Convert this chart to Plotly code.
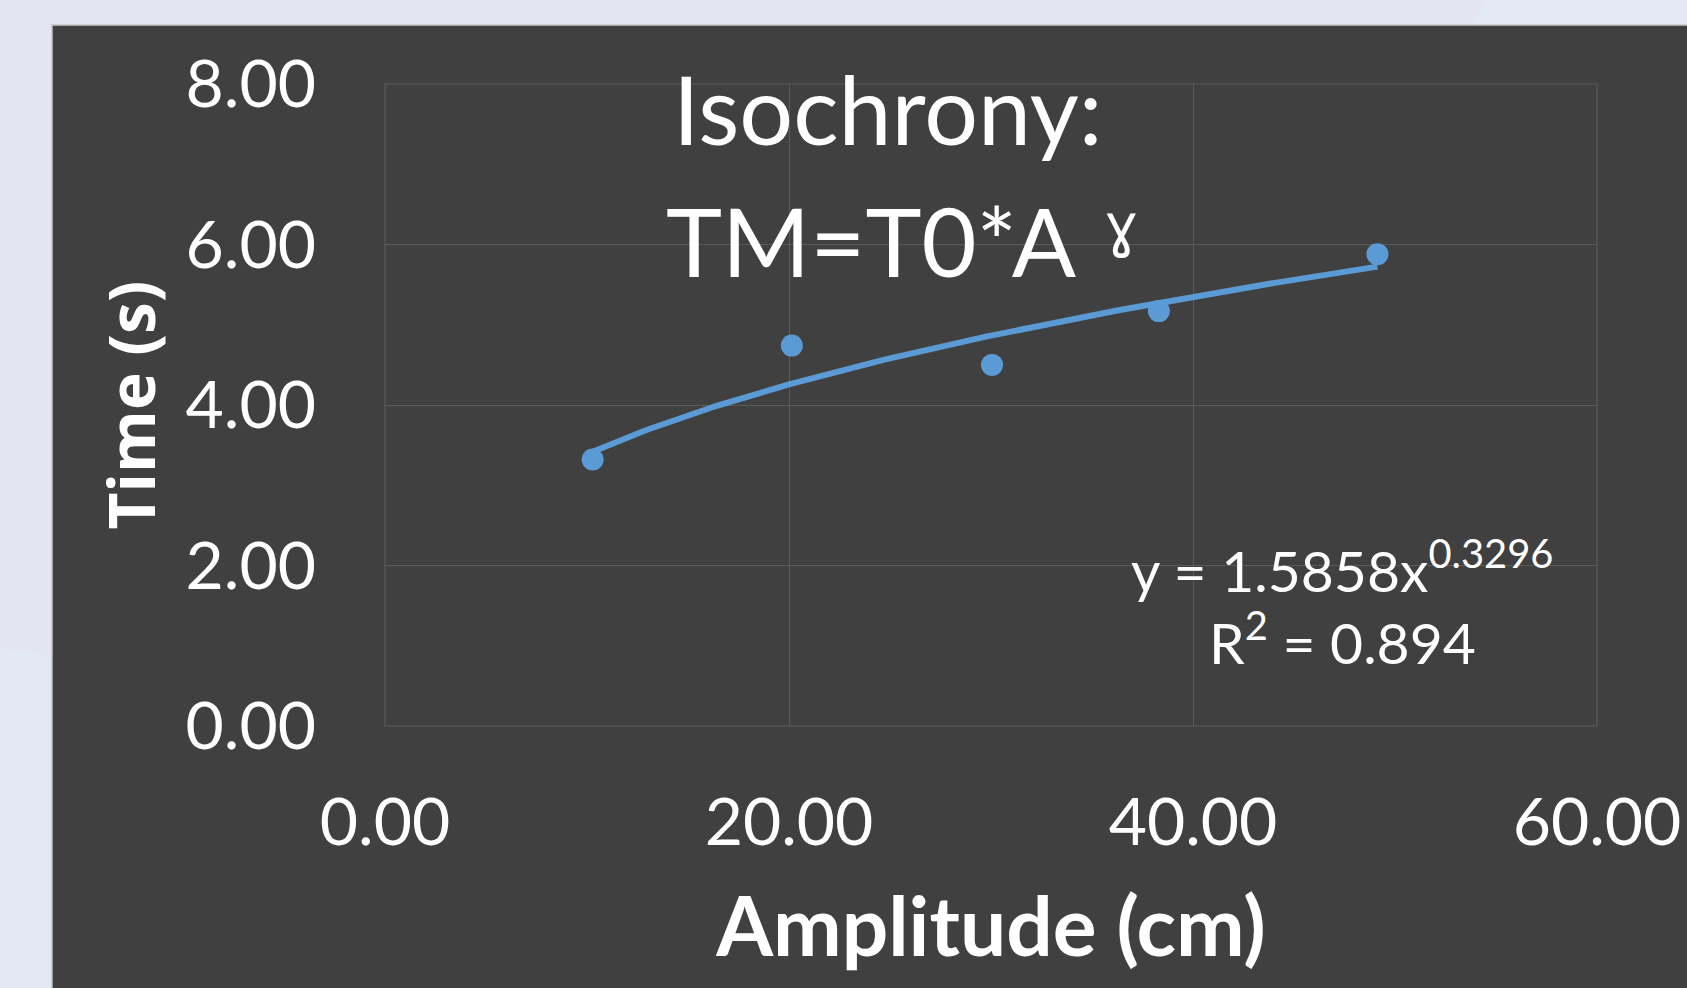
import numpy as np
import plotly.graph_objects as go

# ---- data ----
amplitude_cm = [10.28, 20.14, 30.05, 38.31, 49.13]
time_s = [3.32, 4.74, 4.50, 5.17, 5.88]

# power trendline coefficients shown on the chart: y = a * x^b
fit_a = 1.5858
fit_b = 0.3296
fit_r2 = 0.894

x_ticks = [0, 20, 40, 60]
x_ticklabels = ["0.00", "20.00", "40.00", "60.00"]
y_ticks = [0, 2, 4, 6, 8]
y_ticklabels = ["0.00", "2.00", "4.00", "6.00", "8.00"]

# ---- figure geometry ----
W, H = 1687, 988
L, R, T, B = 385, 90, 84, 262
PW, PH = W - L - R, H - T - B


def fx(px):
    return (px - L) / PW


def fy(py):
    return (H - B - py) / PH


PANEL = "#404040"
GRID = "#5a5a5a"
BLUE = "#5b9bd5"
FONT = "Lato"

trend_x = np.linspace(min(amplitude_cm), max(amplitude_cm), 200)
trend_y = fit_a * trend_x ** fit_b

fig = go.Figure()
fig.add_trace(go.Scatter(
    x=trend_x, y=trend_y, mode="lines",
    line=dict(color=BLUE, width=6), hoverinfo="skip", showlegend=False,
))
fig.add_trace(go.Scatter(
    x=amplitude_cm, y=time_s, mode="markers",
    marker=dict(color=BLUE, size=22, line=dict(width=0)), showlegend=False,
))

shapes = [
    # lighter slide-background areas
    dict(type="path", xref="paper", yref="paper", layer="below",
         path=f"M {fx(1487)} {fy(0)} L {fx(1687)} {fy(0)} L {fx(1687)} {fy(25)} L {fx(1473)} {fy(25)} Z",
         fillcolor="#e3eaf6", line=dict(width=0)),
    dict(type="path", xref="paper", yref="paper", layer="below",
         path=f"M {fx(0)} {fy(648)} L {fx(52)} {fy(656)} L {fx(52)} {fy(988)} L {fx(0)} {fy(988)} Z",
         fillcolor="#e2e9f5", line=dict(width=0)),
    # dark chart panel
    dict(type="rect", xref="paper", yref="paper", layer="below",
         x0=fx(52), x1=fx(W + 5), y0=fy(H + 5), y1=fy(25),
         fillcolor=PANEL, line=dict(color="#c4c4c4", width=1.5)),
    # plot-area border
    dict(type="rect", xref="paper", yref="paper", layer="below",
         x0=0, x1=1, y0=0, y1=1, line=dict(color=GRID, width=1.2)),
]

annotations = [
    dict(text="Isochrony:", xref="paper", yref="paper",
         x=fx(888), y=fy(108), xanchor="center", yanchor="middle",
         showarrow=False, font=dict(family=FONT, size=95, color="white")),
    dict(text="TM=T0*A", xref="paper", yref="paper",
         x=fx(871), y=fy(240), xanchor="center", yanchor="middle",
         showarrow=False, font=dict(family=FONT, size=95, color="white")),
    dict(text="ɣ", xref="paper", yref="paper",
         x=fx(1121), y=fy(226), xanchor="center", yanchor="middle",
         showarrow=False, font=dict(family="DejaVu Sans", size=58, color="white")),
    dict(text=f"y = {fit_a}x<sup>{fit_b}</sup>", xref="paper", yref="paper",
         x=fx(1342), y=fy(566), xanchor="center", yanchor="middle",
         showarrow=False, font=dict(family=FONT, size=57, color="white")),
    dict(text=f"R<sup>2</sup> = {fit_r2}", xref="paper", yref="paper",
         x=fx(1342), y=fy(638), xanchor="center", yanchor="middle",
         showarrow=False, font=dict(family=FONT, size=57, color="white")),
]

fig.update_layout(
    width=W, height=H, autosize=False,
    margin=dict(l=L, r=R, t=T, b=B, pad=0),
    paper_bgcolor="#e3e5f1", plot_bgcolor=PANEL,
    shapes=shapes, annotations=annotations,
    showlegend=False,
    xaxis=dict(
        range=[0, 60], tickmode="array", tickvals=x_ticks, ticktext=x_ticklabels,
        showgrid=True, gridcolor=GRID, gridwidth=1.2, zeroline=False, showline=False,
        ticks="", ticklabelstandoff=52,
        tickfont=dict(family=FONT, size=66, color="white"),
        title=dict(text="<b>Amplitude (cm)</b>", standoff=40,
                   font=dict(family=FONT, size=82, color="white")),
        automargin=False, fixedrange=True,
    ),
    yaxis=dict(
        range=[0, 8], tickmode="array", tickvals=y_ticks, ticktext=y_ticklabels,
        showgrid=True, gridcolor=GRID, gridwidth=1.2, zeroline=False, showline=False,
        ticks="", ticklabelstandoff=68,
        tickfont=dict(family=FONT, size=66, color="white"),
        title=dict(text="<b>Time (s)</b>", standoff=9,
                   font=dict(family="Open Sans", size=64, color="white")),
        automargin=False, fixedrange=True,
    ),
)

fig.write_html(
    "out.html",
    config={"displayModeBar": False},
    post_script="document.body.style.margin='0px';",
)
